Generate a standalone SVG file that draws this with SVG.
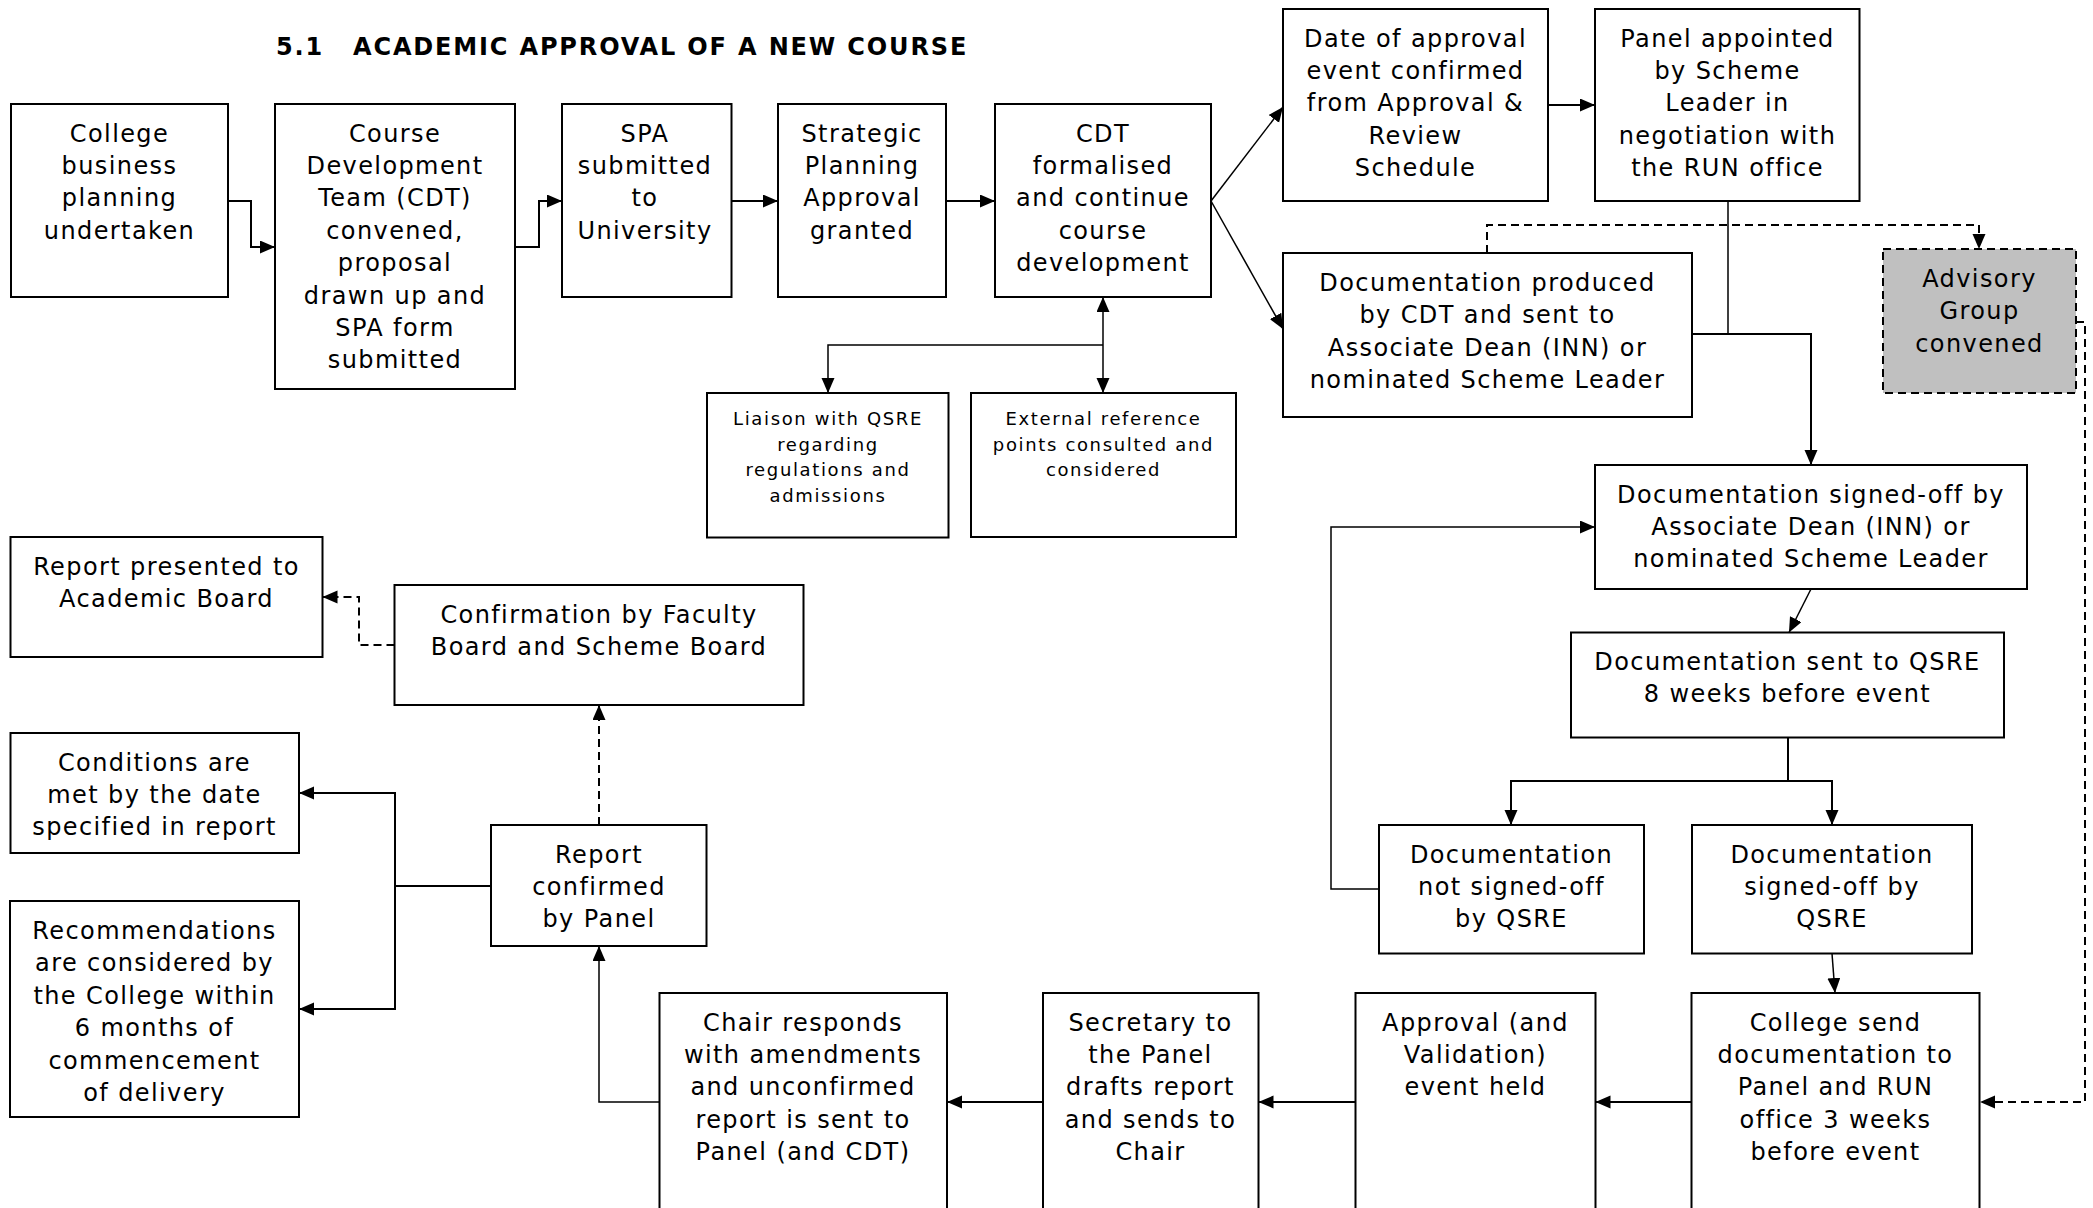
<svg xmlns="http://www.w3.org/2000/svg" width="2093" height="1208" viewBox="0 0 2093 1208">
<style>
.box{fill:#fff;stroke:#000;stroke-width:2}
.adv{fill:#c0c0c0;stroke:#000;stroke-width:2;stroke-dasharray:8 5}
.t{font-family:"DejaVu Sans",Verdana,sans-serif;font-size:24px;letter-spacing:1.4px;text-anchor:middle;fill:#000}
.s{font-family:"DejaVu Sans",Verdana,sans-serif;font-size:18px;letter-spacing:1.65px;text-anchor:middle;fill:#000}
.title{font-family:"DejaVu Sans",Verdana,sans-serif;font-size:24px;font-weight:bold;letter-spacing:1.85px;fill:#000}
.c{fill:none;stroke:#000;stroke-width:2}
.ct{fill:none;stroke:#000;stroke-width:1.5}
.d{fill:none;stroke:#000;stroke-width:2;stroke-dasharray:8 5}
</style>
<defs>
<marker id="a" markerUnits="userSpaceOnUse" markerWidth="15" markerHeight="14" refX="15" refY="6.5" orient="auto">
<path d="M0,0 L15,6.5 L0,13 z" fill="#000"/>
</marker>
</defs>
<rect width="2093" height="1208" fill="#fff"/>
<text class="title" x="276" y="55">5.1<tspan x="353">ACADEMIC APPROVAL OF A NEW COURSE</tspan></text>

<g id="n1"><rect class="box" x="11" y="104" width="217" height="193"/>
<text class="t" y="141.5"><tspan x="119.5">College</tspan><tspan x="119.5" dy="32.4">business</tspan><tspan x="119.5" dy="32.4">planning</tspan><tspan x="119.5" dy="32.4">undertaken</tspan></text></g>

<g id="n2"><rect class="box" x="275" y="104" width="240" height="285"/>
<text class="t" y="141.5"><tspan x="395">Course</tspan><tspan x="395" dy="32.4">Development</tspan><tspan x="395" dy="32.4">Team (CDT)</tspan><tspan x="395" dy="32.4">convened,</tspan><tspan x="395" dy="32.4">proposal</tspan><tspan x="395" dy="32.4">drawn up and</tspan><tspan x="395" dy="32.4">SPA form</tspan><tspan x="395" dy="32.4">submitted</tspan></text></g>

<g id="n3"><rect class="box" x="562" y="104" width="169.5" height="193"/>
<text class="t" y="141.5"><tspan x="645">SPA</tspan><tspan x="645" dy="32.4">submitted</tspan><tspan x="645" dy="32.4">to</tspan><tspan x="645" dy="32.4">University</tspan></text></g>

<g id="n4"><rect class="box" x="778" y="104" width="168" height="193"/>
<text class="t" y="141.5"><tspan x="862">Strategic</tspan><tspan x="862" dy="32.4">Planning</tspan><tspan x="862" dy="32.4">Approval</tspan><tspan x="862" dy="32.4">granted</tspan></text></g>

<g id="n5"><rect class="box" x="995" y="104" width="216" height="193"/>
<text class="t" y="141.5"><tspan x="1103">CDT</tspan><tspan x="1103" dy="32.4">formalised</tspan><tspan x="1103" dy="32.4">and continue</tspan><tspan x="1103" dy="32.4">course</tspan><tspan x="1103" dy="32.4">development</tspan></text></g>

<g id="n6"><rect class="box" x="1283" y="9" width="265" height="192"/>
<text class="t" y="46.5"><tspan x="1415.5">Date of approval</tspan><tspan x="1415.5" dy="32.4">event confirmed</tspan><tspan x="1415.5" dy="32.4">from Approval &amp;</tspan><tspan x="1415.5" dy="32.4">Review</tspan><tspan x="1415.5" dy="32.4">Schedule</tspan></text></g>

<g id="n7"><rect class="box" x="1595" y="9" width="264.5" height="192"/>
<text class="t" y="46.5"><tspan x="1727.5">Panel appointed</tspan><tspan x="1727.5" dy="32.4">by Scheme</tspan><tspan x="1727.5" dy="32.4">Leader in</tspan><tspan x="1727.5" dy="32.4">negotiation with</tspan><tspan x="1727.5" dy="32.4">the RUN office</tspan></text></g>

<g id="n8"><rect class="box" x="1283" y="253" width="409" height="164"/>
<text class="t" y="291"><tspan x="1487.5">Documentation produced</tspan><tspan x="1487.5" dy="32.4">by CDT and sent to</tspan><tspan x="1487.5" dy="32.4">Associate Dean (INN) or</tspan><tspan x="1487.5" dy="32.4">nominated Scheme Leader</tspan></text></g>

<g id="n9"><rect class="adv" x="1883" y="249" width="193" height="144"/>
<text class="t" y="287"><tspan x="1979.5">Advisory</tspan><tspan x="1979.5" dy="32.4">Group</tspan><tspan x="1979.5" dy="32.4">convened</tspan></text></g>

<g id="n10"><rect class="box" x="707" y="393" width="241.5" height="144.5"/>
<text class="s" y="425"><tspan x="828">Liaison with QSRE</tspan><tspan x="828" dy="25.5">regarding</tspan><tspan x="828" dy="25.5">regulations and</tspan><tspan x="828" dy="25.5">admissions</tspan></text></g>

<g id="n11"><rect class="box" x="971" y="393" width="265" height="144"/>
<text class="s" y="425"><tspan x="1103.5">External reference</tspan><tspan x="1103.5" dy="25.5">points consulted and</tspan><tspan x="1103.5" dy="25.5">considered</tspan></text></g>

<g id="n12"><rect class="box" x="1595" y="465" width="432" height="124"/>
<text class="t" y="502.5"><tspan x="1811">Documentation signed-off by</tspan><tspan x="1811" dy="32.4">Associate Dean (INN) or</tspan><tspan x="1811" dy="32.4">nominated Scheme Leader</tspan></text></g>

<g id="n13"><rect class="box" x="1571" y="632.5" width="433" height="105"/>
<text class="t" y="670"><tspan x="1787.5">Documentation sent to QSRE</tspan><tspan x="1787.5" dy="32.4">8 weeks before event</tspan></text></g>

<g id="n14"><rect class="box" x="1379" y="825" width="265" height="128.5"/>
<text class="t" y="862.5"><tspan x="1511.5">Documentation</tspan><tspan x="1511.5" dy="32.4">not signed-off</tspan><tspan x="1511.5" dy="32.4">by QSRE</tspan></text></g>

<g id="n15"><rect class="box" x="1692" y="825" width="280" height="128.5"/>
<text class="t" y="862.5"><tspan x="1832">Documentation</tspan><tspan x="1832" dy="32.4">signed-off by</tspan><tspan x="1832" dy="32.4">QSRE</tspan></text></g>

<g id="n16"><rect class="box" x="1691.5" y="993" width="288" height="240"/>
<text class="t" y="1030.5"><tspan x="1835.5">College send</tspan><tspan x="1835.5" dy="32.4">documentation to</tspan><tspan x="1835.5" dy="32.4">Panel and RUN</tspan><tspan x="1835.5" dy="32.4">office 3 weeks</tspan><tspan x="1835.5" dy="32.4">before event</tspan></text></g>

<g id="n17"><rect class="box" x="1355.5" y="993" width="240" height="240"/>
<text class="t" y="1030.5"><tspan x="1475.5">Approval (and</tspan><tspan x="1475.5" dy="32.4">Validation)</tspan><tspan x="1475.5" dy="32.4">event held</tspan></text></g>

<g id="n18"><rect class="box" x="1043" y="993" width="215.5" height="240"/>
<text class="t" y="1030.5"><tspan x="1150.5">Secretary to</tspan><tspan x="1150.5" dy="32.4">the Panel</tspan><tspan x="1150.5" dy="32.4">drafts report</tspan><tspan x="1150.5" dy="32.4">and sends to</tspan><tspan x="1150.5" dy="32.4">Chair</tspan></text></g>

<g id="n19"><rect class="box" x="659.5" y="993" width="287.5" height="240"/>
<text class="t" y="1030.5"><tspan x="803">Chair responds</tspan><tspan x="803" dy="32.4">with amendments</tspan><tspan x="803" dy="32.4">and unconfirmed</tspan><tspan x="803" dy="32.4">report is sent to</tspan><tspan x="803" dy="32.4">Panel (and CDT)</tspan></text></g>

<g id="n20"><rect class="box" x="491" y="825" width="215.5" height="121"/>
<text class="t" y="862.5"><tspan x="599">Report</tspan><tspan x="599" dy="32.4">confirmed</tspan><tspan x="599" dy="32.4">by Panel</tspan></text></g>

<g id="n21"><rect class="box" x="394.5" y="585" width="409" height="120"/>
<text class="t" y="622.5"><tspan x="599">Confirmation by Faculty</tspan><tspan x="599" dy="32.4">Board and Scheme Board</tspan></text></g>

<g id="n22"><rect class="box" x="10.5" y="537" width="312" height="120"/>
<text class="t" y="575"><tspan x="166.5">Report presented to</tspan><tspan x="166.5" dy="32.4">Academic Board</tspan></text></g>

<g id="n23"><rect class="box" x="10.5" y="733" width="288.5" height="120"/>
<text class="t" y="770.5"><tspan x="154.5">Conditions are</tspan><tspan x="154.5" dy="32.4">met by the date</tspan><tspan x="154.5" dy="32.4">specified in report</tspan></text></g>

<g id="n24"><rect class="box" x="10" y="901" width="289" height="216"/>
<text class="t" y="939"><tspan x="154.5">Recommendations</tspan><tspan x="154.5" dy="32.4">are considered by</tspan><tspan x="154.5" dy="32.4">the College within</tspan><tspan x="154.5" dy="32.4">6 months of</tspan><tspan x="154.5" dy="32.4">commencement</tspan><tspan x="154.5" dy="32.4">of delivery</tspan></text></g>

<g id="connectors">
<path class="c" d="M228,201 H251 V247 H275" marker-end="url(#a)"/>
<path class="c" d="M515,247 H539 V201 H562" marker-end="url(#a)"/>
<path class="c" d="M731.5,201 H778" marker-end="url(#a)"/>
<path class="c" d="M946,201 H995" marker-end="url(#a)"/>
<path class="ct" d="M1211,201 L1283,107" marker-end="url(#a)"/>
<path class="ct" d="M1211,201 L1283,329" marker-end="url(#a)"/>
<path class="c" d="M1548,105 H1595" marker-end="url(#a)"/>
<path class="ct" d="M1103,345 V297" marker-end="url(#a)"/>
<path class="ct" d="M1103,345 V393" marker-end="url(#a)"/>
<path class="ct" d="M1103,345 H828 V393" marker-end="url(#a)"/>
<path class="ct" d="M1728,201 V334 H1811"/>
<path class="c" d="M1692,334 H1811 V465" marker-end="url(#a)"/>
<path class="d" d="M1487,253 V225 H1979 V249" marker-end="url(#a)"/>
<path class="d" d="M2076,322 H2085 V1102 H1980" marker-end="url(#a)"/>
<path class="ct" d="M1811,589 L1789,632.5" marker-end="url(#a)"/>
<path class="c" d="M1788,737.5 V781 H1832 V825" marker-end="url(#a)"/>
<path class="c" d="M1788,781 H1511 V825" marker-end="url(#a)"/>
<path class="ct" d="M1379,889 H1331 V527 H1595" marker-end="url(#a)"/>
<path class="ct" d="M1832,953.5 L1835,993" marker-end="url(#a)"/>
<path class="c" d="M1691.5,1102 H1595.5" marker-end="url(#a)"/>
<path class="c" d="M1355.5,1102 H1258.5" marker-end="url(#a)"/>
<path class="c" d="M1043,1102 H947" marker-end="url(#a)"/>
<path class="ct" d="M659.5,1102 H599 V946" marker-end="url(#a)"/>
<path class="d" d="M599,825 V705" marker-end="url(#a)"/>
<path class="d" d="M394.5,645 H359 V597 H322.5" marker-end="url(#a)"/>
<path class="c" d="M491,886 H395 V793 H299" marker-end="url(#a)"/>
<path class="c" d="M395,886 V1009 H299" marker-end="url(#a)"/>
</g>
</svg>
